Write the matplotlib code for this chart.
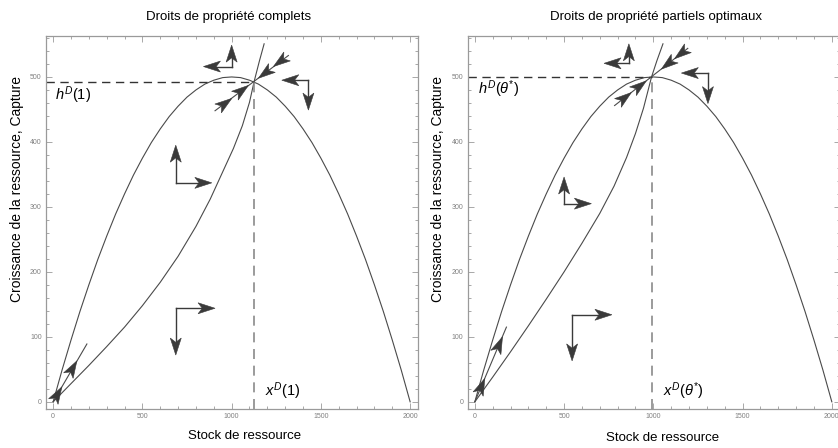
import matplotlib
matplotlib.use("Agg")
import numpy as np
import matplotlib.pyplot as plt
from matplotlib.patches import Polygon
from matplotlib.ticker import MultipleLocator

plt.rcParams['font.family'] = ['Liberation Sans', 'DejaVu Sans']
plt.rcParams['mathtext.fontset'] = 'custom'
plt.rcParams['mathtext.rm'] = 'Liberation Sans'
plt.rcParams['mathtext.it'] = 'Liberation Sans:italic'

# growth curve (same in both panels), read every 50 units of stock
stock = list(range(0, 2001, 50))
growth = [0, 49, 95, 139, 180, 219, 255, 289, 320, 349, 375, 399, 420, 439, 455,
          469, 480, 489, 495, 499, 500, 499, 495, 489, 480, 469, 455, 439, 420, 399,
          375, 349, 320, 289, 255, 219, 180, 139, 95, 49, 0]

# capture curves
left_hx = [0, 100, 200, 300, 400, 500, 600, 700, 800, 880, 950, 1010, 1060, 1100, 1126, 1155, 1182]
left_hy = [0, 28, 56, 85, 115, 148, 184, 224, 270, 312, 354, 390, 425, 461, 493, 524, 551]
right_hx = [0, 100, 200, 300, 400, 500, 600, 700, 780, 850, 900, 945, 990, 1020, 1054]
right_hy = [0, 38, 77, 117, 158, 200, 244, 290, 332, 376, 413, 452, 500, 525, 551]

# steady states
left_ss = (1126, 493)
right_ss = (990, 500)

# saddle path near the steady state: lower end, upper end, arrow tips
left_saddle_lo = (907, 448)
left_saddle_hi = (1318, 533)
left_tips_lo = [(1001, 467), (1094, 487)]
left_tips_hi = [(1234, 516), (1150, 498)]
right_saddle_lo = (783, 456)
right_saddle_hi = (1193, 544)
right_tips_lo = [(877, 476), (961, 494)]
right_tips_hi = [(1119, 528), (1045, 512)]

# unstable path from the origin
left_orig_end = (189, 89)
left_orig_tips = [(49, 23), (133, 63)]
right_orig_end = (177, 115)
right_orig_tips = [(56, 36), (155, 100)]

# direction indicators: corner, vertical tip, horizontal tip
left_cx = [1000, 1430, 687, 687]
left_cy = [516, 495, 337, 144]
left_vtip = [549, 449, 395, 72]
left_htip = [842, 1281, 889, 907]
right_cx = [863, 1306, 500, 545]
right_cy = [521, 506, 305, 134]
right_vtip = [551, 459, 346, 63]
right_htip = [724, 1157, 653, 768]

titles = ["Droits de propriété complets", "Droits de propriété partiels optimaux"]
h_labels = [r'$h^D(1)$', r'$h^D(\theta^{*})$']
x_labels = [r'$x^D(1)$', r'$x^D(\theta^{*})$']

ARROW_C = '#3a3a3a'
CURVE_C = '#4a4a4a'
HEAD_L = 17.0
HEAD_W = 5.5


def head(ax, tail, tip):
    # arrowhead drawn in pixel space so its shape ignores the axis scales
    p0 = ax.transData.transform(tail)
    p1 = ax.transData.transform(tip)
    d = p1 - p0
    u = d / np.hypot(d[0], d[1])
    n = np.array([-u[1], u[0]])
    pts = [p1, p1 - HEAD_L * u + HEAD_W * n, p1 - 0.75 * HEAD_L * u,
           p1 - HEAD_L * u - HEAD_W * n]
    ax.add_patch(Polygon(ax.transData.inverted().transform(pts), closed=True,
                         fc=ARROW_C, ec=ARROW_C, lw=0.4, zorder=4))
    return ax.transData.inverted().transform(p1 - 0.7 * HEAD_L * u)


def arrow(ax, tail, tip):
    base = head(ax, tail, tip)
    ax.plot([tail[0], base[0]], [tail[1], base[1]], color=ARROW_C, lw=1.0, zorder=3)


fig = plt.figure(figsize=(8.38, 4.48), dpi=100)
ax1 = fig.add_axes([0.0549, 0.0871, 0.4439, 0.8325])
ax2 = fig.add_axes([0.5581, 0.0871, 0.4439, 0.8325])

panels = [
    (ax1, left_hx, left_hy, left_ss, left_saddle_lo, left_saddle_hi, left_tips_lo, left_tips_hi,
     left_orig_end, left_orig_tips, left_cx, left_cy, left_vtip, left_htip, (11, 472), (1185, 0)),
    (ax2, right_hx, right_hy, right_ss, right_saddle_lo, right_saddle_hi, right_tips_lo, right_tips_hi,
     right_orig_end, right_orig_tips, right_cx, right_cy, right_vtip, right_htip, (19, 481), (1054, 0)),
]

title_pos = [(229, 17), (656, 17)]
xlab_pos = [(0.535, -0.072), (0.524, -0.078)]
ylab_x = [-0.078, -0.080]

for i, (ax, hx, hy, ss, s_lo, s_hi, t_lo, t_hi, o_end, o_tips,
        cx, cy, vt, ht, hpos, xpos) in enumerate(panels):
    ax.set_xlim(-40, 2044)
    ax.set_ylim(-11, 563)

    ax.plot(stock, growth, color=CURVE_C, lw=0.8)
    ax.plot(hx, hy, color=CURVE_C, lw=0.8)

    # dashed guides to the steady state
    ax.plot([-40, ss[0]], [ss[1], ss[1]], color='#333333', lw=1.0, dashes=(6, 4))
    ax.plot([ss[0], ss[0]], [-11, ss[1]], color='#8a8a8a', lw=1.2, dashes=(6, 4))

    # saddle path
    ax.plot([s_lo[0], s_hi[0]], [s_lo[1], s_hi[1]], color=CURVE_C, lw=0.8)
    for t in t_lo:
        head(ax, s_lo, t)
    for t in t_hi:
        head(ax, s_hi, t)

    ax.plot([0, o_end[0]], [0, o_end[1]], color=CURVE_C, lw=0.8)
    for t in o_tips:
        head(ax, (0, 0), t)

    for x0, y0, yv, xh in zip(cx, cy, vt, ht):
        arrow(ax, (x0, y0), (x0, yv))
        arrow(ax, (x0, y0), (xh, y0))

    ax.text(hpos[0], hpos[1], h_labels[i], fontsize=10.5, va='center', ha='left')
    ax.text(xpos[0], xpos[1], x_labels[i], fontsize=10.5, va='bottom', ha='left')

    fig.text(title_pos[i][0] / 838, 1 - title_pos[i][1] / 448, titles[i],
             fontsize=9.5, ha='center', va='center')
    ax.set_xlabel("Stock de ressource", fontsize=9.5)
    ax.xaxis.set_label_coords(*xlab_pos[i])
    ax.xaxis.label.set_va('center')
    ax.set_ylabel("Croissance de la ressource, Capture", fontsize=10)
    ax.yaxis.set_label_coords(ylab_x[i], 0.59)
    ax.yaxis.label.set_va('center')

    ax.set_xticks([0, 500, 1000, 1500, 2000])
    ax.set_yticks([0, 100, 200, 300, 400, 500])
    ax.xaxis.set_minor_locator(MultipleLocator(100))
    ax.yaxis.set_minor_locator(MultipleLocator(20))
    ax.tick_params(which='both', direction='in', top=True, right=True,
                   color='#9a9a9a', labelsize=5, labelcolor='#808080', width=0.6, pad=3)
    ax.tick_params(which='major', length=4)
    ax.tick_params(which='minor', length=2)
    for sp in ax.spines.values():
        sp.set_color('#9a9a9a')
        sp.set_linewidth(0.9)

fig.savefig("out.png", dpi=100)
